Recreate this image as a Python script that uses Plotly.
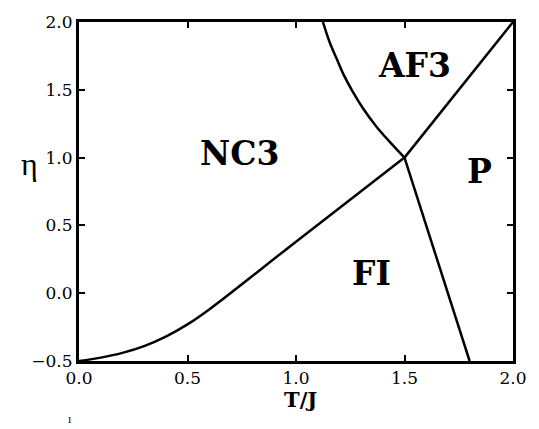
import plotly.graph_objects as go

# NC3 / FI boundary
t_low = [0.0, 0.1, 0.2, 0.3, 0.4, 0.5, 0.6, 1.0, 1.5]
eta_low = [-0.5, -0.475, -0.44, -0.39, -0.32, -0.23, -0.12, 0.38, 1.0]

# NC3 / AF3 boundary
t_up = [1.124, 1.14, 1.16, 1.19, 1.22, 1.26, 1.31, 1.37, 1.43, 1.5]
eta_up = [2.0, 1.92, 1.83, 1.72, 1.61, 1.49, 1.36, 1.23, 1.12, 1.0]

# AF3 / P boundary
t_ap = [1.5, 2.0]
eta_ap = [1.0, 2.0]

# FI / P boundary
t_fp = [1.5, 1.8]
eta_fp = [1.0, -0.5]

phase_names = ["NC3", "AF3", "P", "FI"]
phase_t = [0.74, 1.548, 1.846, 1.35]
phase_eta = [1.03, 1.68, 0.90, 0.145]

x_ticks = [0.0, 0.5, 1.0, 1.5, 2.0]
y_ticks = [-0.5, 0.0, 0.5, 1.0, 1.5, 2.0]

fig = go.Figure()
for xs, ys in [(t_low, eta_low), (t_up, eta_up), (t_ap, eta_ap), (t_fp, eta_fp)]:
    fig.add_trace(go.Scatter(x=xs, y=ys, mode="lines",
                             line=dict(color="black", width=2.5, shape="spline", smoothing=1.0),
                             showlegend=False, hoverinfo="skip"))

for name, tx, ty in zip(phase_names, phase_t, phase_eta):
    fig.add_annotation(x=tx, y=ty, text=name, showarrow=False,
                       font=dict(family="DejaVu Serif", size=33, color="black", weight="bold"))

axis_common = dict(
    showline=True, linecolor="black", linewidth=3, mirror="ticks",
    ticks="inside", ticklen=6, tickwidth=2, tickcolor="black",
    showgrid=False, zeroline=False, tickformat=".1f",
    tickfont=dict(family="DejaVu Serif", size=17, color="black"),
)

fig.update_xaxes(range=[0, 2], tickvals=x_ticks, **axis_common)
fig.update_yaxes(range=[-0.5, 2], tickvals=y_ticks, **axis_common)

fig.add_annotation(xref="paper", yref="paper", x=0.51, y=-0.072, text="T/J",
                   showarrow=False, xanchor="center", yanchor="top",
                   font=dict(family="DejaVu Serif", size=21, color="black", weight="bold"))
fig.add_annotation(xref="paper", yref="paper", x=-0.113, y=0.58, text="η",
                   showarrow=False, xanchor="center", yanchor="middle",
                   font=dict(family="Liberation Serif", size=32, color="black"))
fig.add_annotation(xref="paper", yref="paper", x=-0.02, y=-0.17, text="ı",
                   showarrow=False, xanchor="center", yanchor="middle",
                   font=dict(family="Liberation Serif", size=12, color="black"))

fig.update_layout(
    width=539, height=429, autosize=False,
    margin=dict(l=79, r=24, t=19, b=68),
    plot_bgcolor="white", paper_bgcolor="white",
)

fig.write_html("out.html")
